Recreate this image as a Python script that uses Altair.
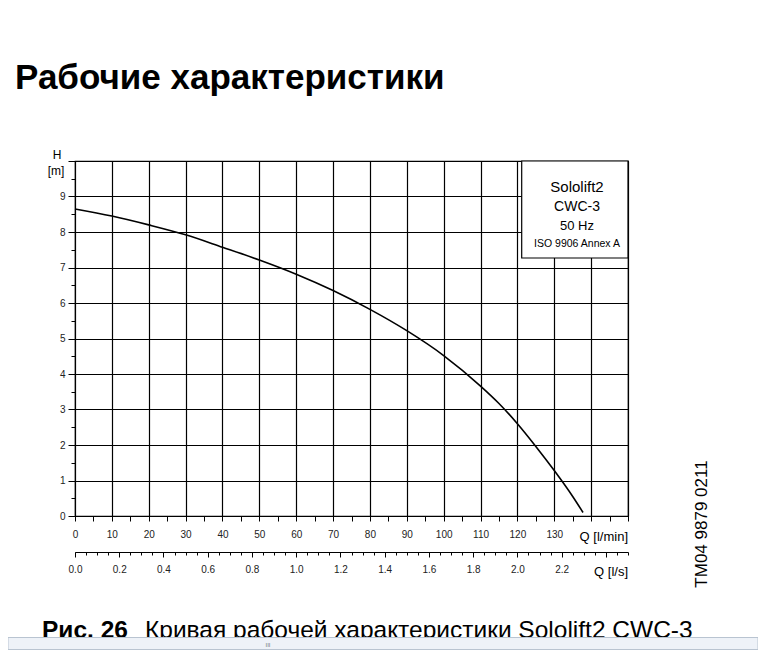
import altair as alt
import pandas as pd

# ---- data ----
q_lmin = [0, 10, 20, 30, 40, 50, 60, 70, 80, 90, 100, 110, 115, 120, 125, 130, 135, 137.8]
h_m = [8.65, 8.45, 8.2, 7.92, 7.57, 7.21, 6.81, 6.35, 5.82, 5.22, 4.52, 3.66, 3.17, 2.6, 1.96, 1.28, 0.55, 0.1]

major_q = list(range(0, 151, 10))
minor_q = list(range(5, 150, 10))
major_h = list(range(0, 11))
minor_h = [i + 0.5 for i in range(10)]
ls_major = list(range(0, 145, 12))   # l/min positions of 0.0, 0.2, ... 2.4 l/s
ls_minor = list(range(0, 151, 3))    # every 0.05 l/s

title_text = "Рабочие характеристики"
caption_bold = "Рис. 26"
caption_text = "Кривая рабочей характеристики Sololift2 CWC-3"
legend_lines = ["Sololift2", "CWC-3", "50 Hz", "ISO 9906 Annex A"]
side_text = "TM04 9879 0211"

FONT = "Liberation Sans"
df = pd.DataFrame({"Q": q_lmin, "H": h_m})

xs = alt.Scale(domain=[0, 150], nice=False, zero=False)
ys = alt.Scale(domain=[0, 10], nice=False)

common = dict(labelFont=FONT, labelFontSize=10, labelColor="#222", tickColor="black",
              domainColor="black", title=None, labelFlush=False, labelOverlap=False)

curve = alt.Chart(df).mark_line(color="black", strokeWidth=1.6, interpolate="monotone").encode(
    x=alt.X("Q:Q", scale=xs, axis=alt.Axis(
        orient="bottom", values=major_q,
        labelExpr="datum.value <= 130 ? datum.label : ''",
        grid=True, gridColor="black", gridWidth=1.2, gridOpacity=1,
        tickSize=5, labelPadding=8, **common)),
    y=alt.Y("H:Q", scale=ys, axis=alt.Axis(
        orient="left", values=major_h,
        labelExpr="datum.value < 10 ? datum.label : ''",
        grid=True, gridColor="black", gridWidth=1.2, gridOpacity=1,
        tickSize=7, labelPadding=3, **common)),
)

minor = alt.Chart(df).mark_point(opacity=0).encode(
    x=alt.X("Q:Q", scale=xs, axis=alt.Axis(
        orient="bottom", values=minor_q, labels=False, grid=False, domain=False,
        tickSize=5, **common)),
    y=alt.Y("H:Q", scale=ys, axis=alt.Axis(
        orient="left", values=minor_h, labels=False, grid=False, domain=False,
        tickSize=4, **common)),
)

ls_axis = alt.Chart(df).mark_point(opacity=0).encode(
    x=alt.X("Q:Q", scale=xs, axis=alt.Axis(
        orient="bottom", offset=36, values=ls_major,
        labelExpr="datum.value <= 132 ? format(datum.value / 60, '.1f') : ''",
        grid=False, tickSize=5, labelPadding=7, **common)),
    y=alt.Y("H:Q", scale=ys, axis=None),
)

ls_minor_axis = alt.Chart(df).mark_point(opacity=0).encode(
    x=alt.X("Q:Q", scale=xs, axis=alt.Axis(
        orient="bottom", offset=36, values=ls_minor, labels=False, domain=False,
        grid=False, tickSize=3, **common)),
    y=alt.Y("H:Q", scale=ys, axis=None),
)


def text(t, x, y, size, weight="normal", align="left", baseline="alphabetic", angle=0, color="black"):
    return alt.Chart(alt.Data(values=[{"t": t}])).mark_text(
        font=FONT, fontSize=size, fontWeight=weight, align=align, baseline=baseline,
        angle=angle, color=color,
    ).encode(text="t:N", x=alt.value(x), y=alt.value(y))


legend_box = alt.Chart(alt.Data(values=[{}])).mark_rect(
    fill="white", stroke="black", strokeWidth=1.2
).encode(x=alt.value(446.7), x2=alt.value(553), y=alt.value(0), y2=alt.value(97))

legend_texts = [
    text(legend_lines[0], 502, 25.7, 15, align="center", baseline="middle"),
    text(legend_lines[1], 502, 45.5, 14, align="center", baseline="middle"),
    text(legend_lines[2], 502, 65, 13, align="center", baseline="middle"),
    text(legend_lines[3], 502, 83.3, 10.5, align="center", baseline="middle"),
]

other_texts = [
    text(title_text, -60, -72, 35, weight="bold"),
    text("H", -18, -6, 12, align="center", baseline="middle"),
    text("[m]", -19, 9.5, 12, align="center", baseline="middle"),
    text("Q [l/min]", 553, 375.5, 13, align="right", baseline="middle"),
    text("Q [l/s]", 553, 411, 13, align="right", baseline="middle"),
    text(side_text, 627, 363, 17, align="center", baseline="middle", angle=270),
    text(caption_bold, -33, 477, 24.5, weight="bold"),
    text(caption_text, 70, 477, 24.5),
]

bar = alt.Chart(alt.Data(values=[{}])).mark_rect(
    fill="#eef2f8", stroke="#b9c4d1", strokeWidth=1
).encode(x=alt.value(-67), x2=alt.value(683), y=alt.value(476.5), y2=alt.value(488.5))
bar_text = text("III", 193, 486, 6, align="center", baseline="alphabetic", color="#777")

chart = alt.layer(
    curve, minor, ls_axis, ls_minor_axis, legend_box, *legend_texts, *other_texts, bar, bar_text
).resolve_axis(
    x="independent", y="independent"
).properties(
    width=553, height=355,
    autosize=alt.AutoSizeParams(type="none"),
    padding={"left": 67, "top": 153, "right": 130, "bottom": 134},
    background="white",
).configure_view(
    stroke="black", strokeWidth=1.2
)

chart.save("out.html", embed_options={"renderer": "svg", "actions": False})
